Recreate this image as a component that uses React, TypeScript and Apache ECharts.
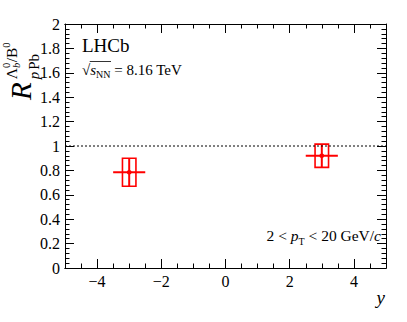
import React, { useEffect, useRef } from "react";
import * as echarts from "echarts";

// ---- data ----
const rapidity = [-3, 3];
const ratio = [0.785, 0.92];
const statErr = [0.115, 0.095];
const systErr = [0.115, 0.095];
const binHalfWidth = [0.5, 0.5];
const systBoxHalfWidth = [0.21, 0.21];
const xMajorTicks = [-4, -2, 0, 2, 4];
const referenceLevel = 1;
const xRange = [-5, 5];
const yRange = [0, 2];

const FONT = "Liberation Serif, serif";

let measureCtx: CanvasRenderingContext2D | null = null;
function measure(text: string, size: number, italic?: boolean) {
  if (!measureCtx) measureCtx = document.createElement("canvas").getContext("2d");
  measureCtx!.font = `${italic ? "italic " : ""}${size}px ${FONT}`;
  return measureCtx!.measureText(text).width;
}

type Piece = { t: string; size: number; italic?: boolean; dy?: number; dx?: number; stay?: boolean };

function layoutPieces(pieces: Piece[], x0: number, baseline: number) {
  let x = x0;
  const out: any[] = [];
  for (const p of pieces) {
    x += p.dx ?? 0;
    const b = baseline + (p.dy ?? 0);
    out.push({
      type: "text",
      x,
      y: b - 0.3375 * p.size,
      style: {
        text: p.t,
        fontFamily: FONT,
        fontSize: p.size,
        fontStyle: p.italic ? "italic" : "normal",
        fill: "#000",
        align: "left",
        verticalAlign: "middle",
      },
    });
    if (!p.stay) x += measure(p.t, p.size, p.italic);
  }
  return { els: out, end: x };
}

function piecesWidth(pieces: Piece[]) {
  let w = 0;
  pieces.forEach((p) => (w += (p.dx ?? 0) + (p.stay ? 0 : measure(p.t, p.size, p.italic))));
  return w;
}

function buildGraphics() {
  const g: any[] = [];
  // y-axis title (rotated)
  const r = layoutPieces([{ t: "R", size: 29, italic: true }], 0, 0);
  const scriptStart = r.end + 3;
  const sup = layoutPieces(
    [
      { t: "Λ", size: 15.5 },
      { t: "b", size: 10.5, italic: true, dy: 3.5, stay: true },
      { t: "0", size: 10.5, dy: -7 },
      { t: "/", size: 15.5, dx: 0.5 },
      { t: "B", size: 15.5 },
      { t: "0", size: 10.5, dy: -7 },
    ],
    scriptStart,
    -14
  );
  const sub = layoutPieces(
    [
      { t: "p", size: 15, italic: true },
      { t: "Pb", size: 15, dx: 2 },
    ],
    scriptStart,
    8
  );
  g.push({
    type: "group",
    x: 31,
    y: 100,
    rotation: Math.PI / 2,
    children: [...r.els, ...sup.els, ...sub.els],
  });

  // LHCb
  g.push(...layoutPieces([{ t: "LHCb", size: 19 }], 82, 52).els);

  // sqrt(s_NN) = 8.16 TeV
  const sqSize = 15;
  const sq = layoutPieces(
    [
      { t: "√", size: sqSize },
      { t: "s", size: sqSize, italic: true },
      { t: "NN", size: 10, dy: 3 },
      { t: " = 8.16 TeV", size: sqSize },
    ],
    82,
    75
  );
  g.push(...sq.els);
  const sqW = measure("√", sqSize);
  const sW = measure("s", sqSize, true) + measure("NN", 10);
  g.push({
    type: "line",
    shape: { x1: 82 + sqW - 0.5, y1: 61.5, x2: 82 + sqW + sW + 0.5, y2: 61.5 },
    style: { stroke: "#000", lineWidth: 0.8 },
  });

  // 2 < pT < 20 GeV/c
  const ptPieces: Piece[] = [
    { t: "2 < ", size: 15.5 },
    { t: "p", size: 15.5, italic: true },
    { t: "T", size: 10, dy: 3.5 },
    { t: " < 20 GeV/", size: 15.5 },
    { t: "c", size: 15.5, italic: true },
  ];
  const w = piecesWidth(ptPieces);
  g.push(...layoutPieces(ptPieces, 381 - w, 241).els);

  // x-axis title
  g.push({
    type: "text",
    x: 385,
    y: 304 - 0.3375 * 19,
    style: {
      text: "y",
      fontFamily: FONT,
      fontSize: 19,
      fontStyle: "italic",
      fill: "#000",
      align: "right",
      verticalAlign: "middle",
    },
  });
  return g;
}

export default function App() {
  const ref = useRef<HTMLDivElement>(null);
  useEffect(() => {
    if (!ref.current) return;
    document.body.style.margin = "0";
    const chart = echarts.init(ref.current, undefined, { renderer: "svg" });
    const axisLine = { show: true, onZero: false, lineStyle: { color: "#000", width: 1 } };
    const fmtX = (v: number) => (v < 0 ? "\u2212" + Math.abs(v) : String(v));
    const baseX = {
      type: "value" as const,
      min: xRange[0],
      max: xRange[1],
      splitLine: { show: false },
      axisLine,
    };
    const baseY = {
      type: "value" as const,
      min: yRange[0],
      max: yRange[1],
      interval: 0.2,
      splitLine: { show: false },
      axisLine,
      axisTick: { show: true, inside: true, length: 9, lineStyle: { color: "#000", width: 1 } },
      minorTick: { show: true, splitNumber: 5, length: 4.5, lineStyle: { color: "#000", width: 1 } },
      minorSplitLine: { show: false },
    };
    const data = rapidity.map((x, i) => [
      x,
      ratio[i],
      statErr[i],
      systErr[i],
      binHalfWidth[i],
      systBoxHalfWidth[i],
    ]);
    const option: any = {
      animation: false,
      grid: { left: 65, right: 21, top: 24, bottom: 54, containLabel: false },
      xAxis: [
        {
          ...baseX,
          position: "bottom",
          interval: 0.5,
          axisTick: { show: true, inside: true, length: 4.5, lineStyle: { color: "#000" } },
          axisLabel: {
            show: true,
            customValues: xMajorTicks,
            formatter: fmtX,
            color: "#000",
            fontFamily: FONT,
            fontSize: 16,
            margin: 5,
          },
        },
        {
          ...baseX,
          position: "bottom",
          interval: 0.5,
          axisTick: {
            show: true,
            inside: true,
            length: 9,
            customValues: xMajorTicks,
            lineStyle: { color: "#000" },
          },
          axisLabel: { show: false },
        },
        {
          ...baseX,
          position: "top",
          interval: 0.5,
          axisTick: { show: true, inside: true, length: 4.5, lineStyle: { color: "#000" } },
          axisLabel: { show: false },
        },
        {
          ...baseX,
          position: "top",
          interval: 0.5,
          axisTick: {
            show: true,
            inside: true,
            length: 9,
            customValues: xMajorTicks,
            lineStyle: { color: "#000" },
          },
          axisLabel: { show: false },
        },
      ],
      yAxis: [
        {
          ...baseY,
          position: "left",
          axisLabel: {
            show: true,
            color: "#000",
            fontFamily: FONT,
            fontSize: 16,
            margin: 5,
          },
        },
        {
          ...baseY,
          position: "right",
          axisLabel: { show: false },
        },
      ],
      series: [
        {
          type: "line",
          xAxisIndex: 0,
          yAxisIndex: 0,
          data: [
            [xRange[0], referenceLevel],
            [xRange[1], referenceLevel],
          ],
          symbol: "none",
          lineStyle: { color: "#000", width: 1, type: [2, 2] },
          silent: true,
        },
        {
          type: "custom",
          xAxisIndex: 0,
          yAxisIndex: 0,
          data,
          renderItem: (params: any, api: any) => {
            const x = api.value(0);
            const y = api.value(1);
            const st = api.value(2);
            const sy = api.value(3);
            const bw = api.value(4);
            const bx = api.value(5);
            const c = api.coord([x, y]);
            const xl = api.coord([x - bw, y])[0];
            const xr = api.coord([x + bw, y])[0];
            const bl = api.coord([x - bx, y])[0];
            const br = api.coord([x + bx, y])[0];
            const sT = api.coord([x, y + st])[1];
            const sB = api.coord([x, y - st])[1];
            const yT = api.coord([x, y + sy])[1];
            const yB = api.coord([x, y - sy])[1];
            const red = "#ff0000";
            return {
              type: "group",
              children: [
                {
                  type: "rect",
                  shape: { x: bl, y: yT, width: br - bl, height: yB - yT },
                  style: { fill: "none", stroke: red, lineWidth: 1.6 },
                },
                {
                  type: "line",
                  shape: { x1: xl, y1: c[1], x2: xr, y2: c[1] },
                  style: { stroke: red, lineWidth: 2 },
                },
                {
                  type: "line",
                  shape: { x1: c[0], y1: sT, x2: c[0], y2: sB },
                  style: { stroke: red, lineWidth: 2 },
                },
                {
                  type: "circle",
                  shape: { cx: c[0], cy: c[1], r: 2.4 },
                  style: { fill: red },
                },
              ],
            };
          },
        },
      ],
      graphic: buildGraphics(),
    };
    chart.setOption(option);
    return () => chart.dispose();
  }, []);
  return <div ref={ref} style={{ width: 407, height: 322 }} />;
}
